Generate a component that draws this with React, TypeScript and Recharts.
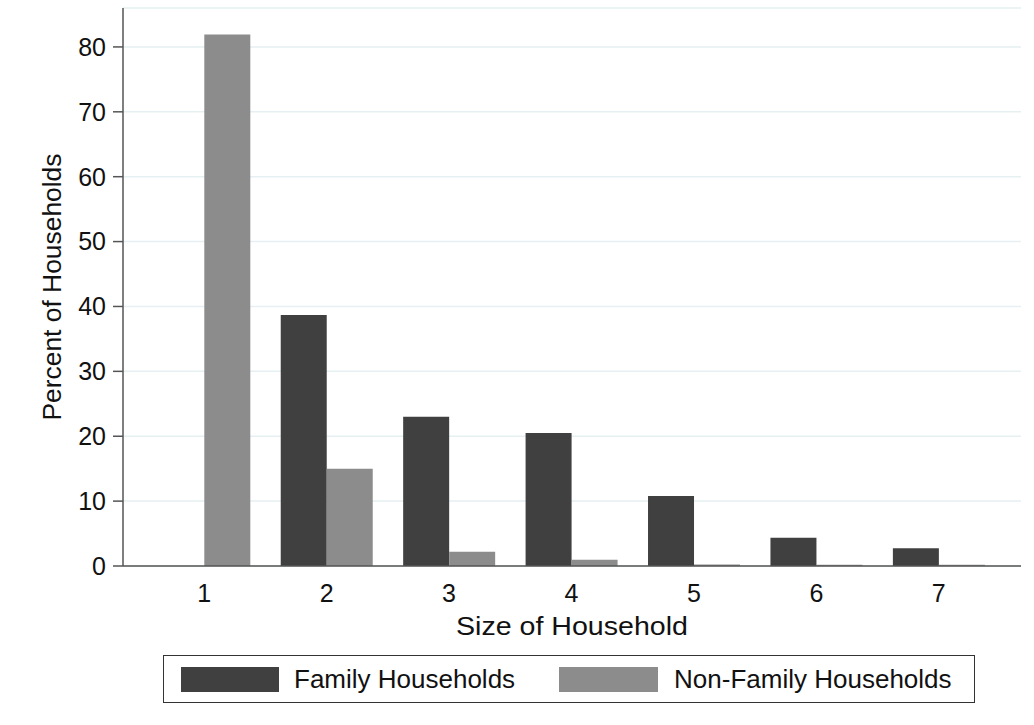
import React from 'react';
import { BarChart, Bar, XAxis, YAxis, CartesianGrid, Legend } from 'recharts';

const categories = ['1', '2', '3', '4', '5', '6', '7'];
const familyValues = [0, 38.7, 23.0, 20.5, 10.8, 4.35, 2.75];
const nonFamilyValues = [81.9, 15.0, 2.2, 0.95, 0.25, 0.2, 0.2];
const yTicks = [0, 10, 20, 30, 40, 50, 60, 70, 80];

const data = categories.map((c, i) => ({
  size: c,
  family: familyValues[i],
  nonFamily: nonFamilyValues[i],
}));

const FONT = '"Liberation Sans", Arial, Helvetica, sans-serif';
const FAMILY_COLOR = '#404040';
const NONFAMILY_COLOR = '#8c8c8c';

const XTitle = (props: any) => {
  const vb = props.viewBox || {};
  const cx = vb.x + vb.width / 2;
  return (
    <text
      x={cx}
      y={635}
      textAnchor="middle"
      fontSize={26}
      fontFamily={FONT}
      fill="#111"
      textLength={232}
      lengthAdjust="spacingAndGlyphs"
    >
      Size of Household
    </text>
  );
};

const YTitle = (props: any) => {
  const vb = props.viewBox || {};
  const cy = vb.y + vb.height / 2;
  const x = 61;
  return (
    <text
      x={x}
      y={cy}
      transform={`rotate(-90 ${x} ${cy})`}
      textAnchor="middle"
      fontSize={25}
      fontFamily={FONT}
      fill="#111"
      textLength={267}
      lengthAdjust="spacingAndGlyphs"
    >
      Percent of Households
    </text>
  );
};

const LegendContent = () => (
  <div
    style={{
      boxSizing: 'border-box',
      width: 812,
      height: 48,
      border: '1.5px solid #333',
      background: '#fff',
      display: 'flex',
      alignItems: 'center',
      fontFamily: FONT,
      fontSize: 26,
      color: '#111',
      whiteSpace: 'nowrap',
    }}
  >
    <div style={{ width: 98, height: 25, background: FAMILY_COLOR, marginLeft: 17, flex: 'none' }} />
    <span style={{ marginLeft: 15 }}>Family Households</span>
    <div style={{ width: 99, height: 25, background: NONFAMILY_COLOR, marginLeft: 44, flex: 'none' }} />
    <span style={{ marginLeft: 16 }}>Non-Family Households</span>
  </div>
);

export default function App() {
  return (
    <div style={{ position: 'absolute', left: 0, top: 0, width: 1034, height: 725, background: '#fff' }}>
      <BarChart
        width={1034}
        height={725}
        data={data}
        margin={{ top: 8, right: 13, left: 0, bottom: 31 }}
        barCategoryGap="12.5%"
        barGap={0}
      >
        <CartesianGrid vertical={false} stroke="#e6eff1" strokeWidth={1.5} />
        <XAxis
          dataKey="size"
          height={80}
          padding={{ left: 20, right: 21 }}
          tickLine={false}
          tickSize={0}
          tickMargin={18}
          axisLine={{ stroke: '#555', strokeWidth: 1.5 }}
          tick={{ fontSize: 25, fontFamily: FONT, fill: '#111' }}
          label={{ content: XTitle } as any}
        />
        <YAxis
          width={123}
          domain={[0, 86]}
          ticks={yTicks}
          interval={0}
          tickSize={10}
          tickMargin={7}
          tickLine={{ stroke: '#555', strokeWidth: 1.5 }}
          axisLine={{ stroke: '#555', strokeWidth: 1.5 }}
          tick={{ fontSize: 25, fontFamily: FONT, fill: '#111' }}
          label={{ content: YTitle } as any}
        />
        <Legend
          content={LegendContent}
          wrapperStyle={{ position: 'absolute', left: 163, top: 655, width: 812, height: 48, bottom: 'auto' }}
        />
        <Bar dataKey="family" name="Family Households" fill={FAMILY_COLOR} isAnimationActive={false} />
        <Bar dataKey="nonFamily" name="Non-Family Households" fill={NONFAMILY_COLOR} isAnimationActive={false} />
      </BarChart>
    </div>
  );
}
